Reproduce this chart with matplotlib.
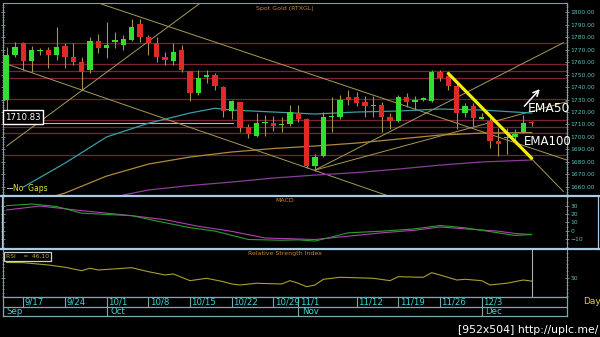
import matplotlib.pyplot as plt
from matplotlib.lines import Line2D
from matplotlib.ticker import MultipleLocator, FormatStrFormatter

# ---- values, bar 0 = 9/13 ----
opens = [1730, 1766, 1775, 1761, 1769, 1770, 1766, 1773, 1764, 1760,
         1754, 1777, 1771, 1776, 1774, 1778, 1791, 1780, 1775, 1764,
         1761, 1770, 1753, 1735, 1748, 1750, 1740, 1721, 1728, 1708,
         1701, 1711, 1711, 1709.5, 1710, 1719, 1714, 1677, 1685, 1716,
         1716, 1732, 1732, 1728, 1725, 1726, 1716, 1713, 1732, 1728,
         1730, 1729, 1752, 1749, 1741, 1719, 1725, 1714, 1713, 1697,
         1699, 1700, 1704, 1712]
highs = [1772, 1776, 1776, 1773, 1771, 1772, 1788, 1775, 1775, 1764,
         1780, 1783, 1792, 1784, 1782, 1795, 1795, 1782, 1780, 1768,
         1775, 1774, 1753, 1754, 1754, 1751, 1741, 1730, 1728, 1710,
         1719, 1718, 1717, 1716, 1726, 1726, 1715, 1686, 1720, 1732,
         1734, 1738, 1736, 1733, 1733, 1728, 1719, 1734, 1735, 1733,
         1732, 1754, 1754, 1750, 1743, 1727, 1727, 1719, 1715, 1707,
         1707, 1706, 1718, 1713]
lows = [1722, 1764, 1754, 1752, 1766, 1755, 1762, 1755, 1758, 1738,
        1751, 1767, 1763, 1771, 1770, 1777, 1776, 1766, 1760, 1758,
        1758, 1752, 1729, 1734, 1743, 1738, 1716, 1714, 1704, 1699,
        1700, 1701, 1705, 1704, 1709, 1712, 1675, 1673, 1684, 1704,
        1714, 1726, 1725, 1716, 1716, 1704, 1706, 1712, 1724, 1722,
        1729, 1728, 1745, 1738, 1706, 1716, 1709, 1714, 1691, 1685,
        1686, 1694, 1703, 1709]
closes = [1766, 1772, 1761, 1770, 1769.5, 1766, 1772, 1764, 1760, 1752,
          1777, 1771, 1774, 1778, 1779, 1788, 1780, 1775, 1764, 1762,
          1768, 1754, 1735, 1747, 1750, 1741, 1721, 1729, 1707, 1702,
          1711, 1711, 1709, 1710, 1720, 1714, 1677, 1684, 1716, 1717,
          1730, 1730, 1727, 1725, 1726, 1716, 1713, 1732, 1728, 1730,
          1731, 1752, 1747, 1741, 1719, 1725, 1715, 1716, 1697, 1694,
          1700, 1702, 1711, 1710.83]

ema50_idx = [2, 7, 12, 17, 22, 25, 27, 32, 37, 42, 47, 52, 57, 63]
ema50 = [1659.8, 1679, 1700, 1711, 1719.2, 1723, 1721.6, 1720, 1718.4,
         1720, 1720.8, 1722.4, 1721.6, 1719.2]
ema100_idx = [6, 7, 12, 17, 22, 27, 32, 37, 42, 47, 52, 57, 63]
ema100 = [1653, 1655, 1668.6, 1678.2, 1683.9, 1687.9, 1690.7, 1692.7,
          1695.1, 1698.3, 1701.5, 1703.1, 1703.5]
ema200_idx = [14, 17, 22, 27, 32, 37, 42, 47, 52, 57, 63]
ema200 = [1653.4, 1657.4, 1661, 1663.8, 1667, 1669.4, 1671.4, 1674.2,
          1677.4, 1679.9, 1681.5]

h_levels = [1775.4, 1758.5, 1753, 1747.6, 1730.2, 1713.2, 1708.2, 1702.9, 1685.4]
# trend lines drawn on the chart: (bar indices), (prices)
trend_x = [(11, 67.2), (0, 48), (0, 23.2), (37, 66.8), (37, 67.2), (52.9, 66.8)]
trend_y = [(1807.5, 1681.5), (1758.5, 1647.6), (1692.7, 1807.3),
           (1673.4, 1775.6), (1673.4, 1728.2), (1751.6, 1656.3)]
yellow_x = (52.9, 63.1)
yellow_y = (1751.6, 1682.2)
last_price = 1710.83

macd_idx = [0, 3, 6, 9, 15, 18, 22, 25, 29, 33, 35, 37, 41, 45, 49, 52, 55, 59, 61, 63]
macd = [30, 32, 29, 21, 18, 11.6, 3.6, -0.5, -10.6, -11.5, -11, -12.5,
        -2.6, -0.6, 2.2, 6.2, 3.4, -2.6, -5.8, -4.6]
signal_idx = [0, 4, 9, 15, 19, 23, 27, 31, 35, 37, 41, 45, 49, 52, 55, 59, 61, 63]
signal = [24.8, 29.6, 24, 18, 13.2, 5.2, -0.8, -8.8, -10, -10.6, -6.6,
          -2.6, 0.6, 4.4, 2.2, -0.6, -3.4, -4.6]

rsi_idx = [0, 2, 5, 7, 9, 10, 11, 15, 17, 19, 20, 22, 24, 26, 27, 28, 30,
           33, 34, 35, 36, 37, 38, 40, 44, 46, 47, 50, 51, 52, 54, 55, 57,
           58, 60, 62, 63]
rsi = [72, 71.7, 68.5, 65.3, 60.6, 63.9, 61.5, 64.7, 59.2, 54.6, 56, 46.7,
       50, 45.3, 42.1, 40.7, 43.1, 42.1, 46.7, 43.1, 38.3, 40.7, 48.6, 51.4,
       50, 46.7, 52.2, 51.4, 57.8, 54.6, 47.6, 48.6, 46.7, 40.7, 43.1, 47.6,
       46.1]

tick_idx = [2, 7, 12, 17, 22, 27, 32, 35, 42, 47, 52, 57]
tick_lbl = ['9/17', '9/24', '10/1', '10/8', '10/15', '10/22', '10/29',
            '11/1', '11/12', '11/19', '11/26', '12/3']
month_idx = [-0.44, 12, 35, 57]
month_lbl = ['Sep', 'Oct', 'Nov', 'Dec']

# colours
up_col = '#2fe02f'
down_col = '#e02a2a'
wick_col = '#a8904c'
trend_col = '#a89a58'
level_col = '#7c2230'
axis_grey = '#8a9aa0'
tick_teal = '#5cc0c0'
label_orange = '#c8843a'
sep_blue = '#a9cbe3'

W, H = 600.0, 337.0
fig = plt.figure(figsize=(6.0, 3.37), dpi=100, facecolor='black')


def panel(x0, y0, x1, y1):
    a = fig.add_axes([x0 / W, 1 - y1 / H, (x1 - x0) / W, (y1 - y0) / H])
    a.set_facecolor('black')
    a.set_xlim(-0.44, 67.24)
    for s in a.spines.values():
        s.set_color(axis_grey)
        s.set_linewidth(0.8)
    a.tick_params(axis='x', bottom=False, labelbottom=False)
    a.tick_params(axis='y', which='both', left=True, right=True,
                  labelleft=False, labelright=True, direction='inout',
                  colors=axis_grey, labelcolor=tick_teal, labelsize=4.3, pad=1)
    a.tick_params(axis='y', which='major', length=3, width=0.6)
    a.tick_params(axis='y', which='minor', length=1.6, width=0.5)
    return a


# ---------------- price panel ----------------
ax = panel(3, 3, 567, 195)
ax.set_ylim(1653.4, 1807.5)
ax.spines['bottom'].set_visible(False)
ax.yaxis.set_major_locator(MultipleLocator(10))
ax.yaxis.set_minor_locator(MultipleLocator(2))
ax.yaxis.set_major_formatter(FormatStrFormatter('%.2f'))

for lv in h_levels:
    ax.axhline(lv, color=level_col, lw=0.9, zorder=1)
ax.plot([-0.44, 27.2], [last_price, last_price], color='#b8b8b8', lw=0.8, zorder=1)

for tx, ty in zip(trend_x, trend_y):
    ax.plot(tx, ty, color=trend_col, lw=0.7, zorder=2)

ax.plot(ema50_idx, ema50, color='#3a9ea6', lw=0.9, zorder=2)
ax.plot(ema100_idx, ema100, color='#b08a3c', lw=0.9, zorder=2)
ax.plot(ema200_idx, ema200, color='#8a3c9c', lw=0.9, zorder=2)

for i, (o, h, l, c) in enumerate(zip(opens, highs, lows, closes)):
    ax.vlines(i, l, h, color=wick_col, lw=0.8, zorder=3)
    col = up_col if c >= o else down_col
    ax.bar(i, max(abs(c - o), 0.9), bottom=min(o, c), width=0.64,
           color=col, linewidth=0, zorder=4)

ax.plot(yellow_x, yellow_y, color='#f4ee10', lw=2.3, solid_capstyle='butt', zorder=5)

ax.annotate('', xy=(64.2, 1740), xytext=(61.9, 1723),
            arrowprops=dict(arrowstyle='->', color='white', lw=1.1), zorder=6)
ax.text(62.56, 1723.2, 'EMA50', color='white', fontsize=8.8, va='center', ha='left', zorder=6)
ax.text(62.08, 1696.1, 'EMA100', color='white', fontsize=8.5, va='center', ha='left', zorder=6)

ax.text(0.5, 0.985, 'Spot Gold (RTXGL)', transform=ax.transAxes, ha='center',
        va='top', color=label_orange, fontsize=4.5)
ax.text(0.036, 1715.9, '1710.83', transform=ax.get_yaxis_transform(),
        ha='center', va='center', color='white', fontsize=6.2, zorder=7,
        bbox=dict(boxstyle='square,pad=0.25', fc='black', ec='white', lw=1))
ax.plot([0.007, 0.016], [0.034, 0.034], transform=ax.transAxes, color='#c0c0c0', lw=0.7)
ax.text(0.017, 0.034, 'No  Gaps', transform=ax.transAxes, ha='left', va='center',
        color='#e6e630', fontsize=5.5)

# ---------------- MACD panel ----------------
ax2 = panel(3, 197, 567, 248)
ax2.set_ylim(-20.8, 40.4)
ax2.spines['top'].set_visible(False)
ax2.spines['bottom'].set_visible(False)
ax2.set_yticks([-10, 0, 10, 20, 30])
ax2.yaxis.set_minor_locator(MultipleLocator(5))
ax2.plot(signal_idx, signal, color='#b040b4', lw=0.8)
ax2.plot(macd_idx, macd, color='#28a028', lw=0.8)
ax2.text(0.5, 0.93, 'MACD', transform=ax2.transAxes, ha='center', va='center',
         color=label_orange, fontsize=4.5)

# ---------------- RSI panel ----------------
ax3 = panel(3, 250, 567, 297)
ax3.set_ylim(24, 89.3)
ax3.spines['top'].set_visible(False)
ax3.set_yticks([50])
ax3.yaxis.set_minor_locator(MultipleLocator(5))
ax3.plot(rsi_idx, rsi, color='#a8a030', lw=0.8)
ax3.axvline(len(closes) - 1, color='#b0b0b0', lw=0.8)
ax3.text(0.5, 0.915, 'Relative Strength Index', transform=ax3.transAxes,
         ha='center', va='center', color=label_orange, fontsize=4.5)
ax3.text(0.043, 0.866, 'RSI    =  %.2f' % rsi[-1], transform=ax3.transAxes,
         ha='center', va='center', color='#b8a848', fontsize=4.3,
         bbox=dict(boxstyle='square,pad=0.35', fc='black', ec='#d0d0d0', lw=0.9))

# ---------------- date axis ----------------
ax4 = fig.add_axes([3 / W, 1 - 316 / H, 564 / W, 19 / H])
ax4.set_facecolor('black')
ax4.set_xlim(-0.44, 67.24)
ax4.set_ylim(0, 1)
ax4.set_xticks([])
ax4.set_yticks([])
for s in ax4.spines.values():
    s.set_color('#7fa7b0')
    s.set_linewidth(0.9)
ax4.axhline(0.5, color='#7fa7b0', lw=0.9)
for xi, lb in zip(tick_idx, tick_lbl):
    ax4.plot([xi, xi], [0.5, 1], color='#7fa7b0', lw=0.8)
    ax4.text(xi + 0.15, 0.75, lb, color='#3ed4d4', fontsize=6.2, ha='left', va='center')
for xi, lb in zip(month_idx, month_lbl):
    ax4.plot([xi, xi], [0, 0.5], color='#7fa7b0', lw=0.8)
    ax4.text(xi + 0.45, 0.25, lb, color='#3ed4d4', fontsize=6.2, ha='left', va='center')

fig.text(583 / W, 1 - 302 / H, 'Day', color='#e0d040', fontsize=6.5, ha='left', va='center')

# panel separators and MACD frame
for yy in (195.5, 249):
    fig.add_artist(Line2D([0, 1], [1 - yy / H] * 2, transform=fig.transFigure,
                          color=sep_blue, lw=1.6))
for xx in (1.5, 597.5):
    fig.add_artist(Line2D([xx / W] * 2, [1 - 195.5 / H, 1 - 249 / H],
                          transform=fig.transFigure, color=sep_blue, lw=0.9))

fig.text(598 / W, 1 - 330 / H, '[952x504] http://uplc.me/', color='white',
         fontsize=7.8, ha='right', va='center')

fig.savefig('out.png', dpi=100, facecolor='black')
